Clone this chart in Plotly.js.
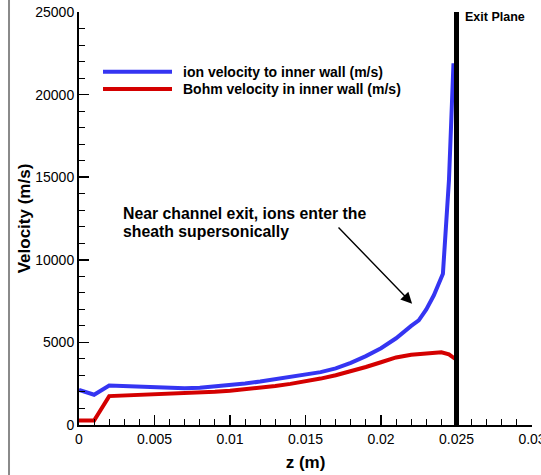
<!DOCTYPE html>
<html>
<head>
<meta charset="utf-8">
<script src="https://cdn.plot.ly/plotly-3.0.1.min.js"></script>
<style>html,body{margin:0;padding:0;background:#fff;}#chart{width:541px;height:475px;}</style>
</head>
<body>
<div id="chart"></div>
<script>
// ion velocity to inner wall (m/s)
var zIon = [0, 0.001, 0.002, 0.003, 0.004, 0.005, 0.006, 0.007, 0.008, 0.009, 0.010, 0.011, 0.012, 0.013, 0.014, 0.015, 0.016, 0.017, 0.018, 0.019, 0.020, 0.021, 0.0215, 0.022, 0.0225, 0.023, 0.0235, 0.0241, 0.0245, 0.0248];
var vIon = [2130, 1830, 2390, 2360, 2290, 2250, 2230, 2230, 2260, 2330, 2410, 2510, 2630, 2760, 2900, 3030, 3200, 3430, 3760, 4170, 4650, 5250, 5650, 6000, 6330, 7000, 7850, 9160, 14800, 21900];
// Bohm velocity in inner wall (m/s)
var zBohm = [0, 0.001, 0.002, 0.003, 0.004, 0.005, 0.006, 0.007, 0.008, 0.009, 0.010, 0.011, 0.012, 0.013, 0.014, 0.015, 0.016, 0.017, 0.018, 0.019, 0.020, 0.021, 0.022, 0.023, 0.024, 0.0245, 0.0249];
var vBohm = [270, 270, 1750, 1780, 1810, 1850, 1880, 1920, 1960, 2010, 2070, 2150, 2250, 2360, 2490, 2640, 2810, 3010, 3240, 3510, 3800, 4090, 4250, 4350, 4400, 4280, 4010];
var exitPlaneZ = 0.025;
var seriesNames = ["ion velocity to inner wall (m/s)", "Bohm velocity in inner wall (m/s)"];
var noteText = ["Near channel exit, ions enter the", "sheath supersonically"];
var arrowTail = [0.01709, 12050];
var arrowHead = [0.02206, 7345];
var xTickVals = [0, 0.005, 0.01, 0.015, 0.02, 0.025, 0.03];
var xTickText = ["0", "0.005", "0.01", "0.015", "0.02", "0.025", "0.03"];
var yTickVals = [0, 5000, 10000, 15000, 20000, 25000];
var yTickText = ["0", "5000", "10000", "15000", "20000", "25000"];

var FONT = "Liberation Sans, Arial, Helvetica, sans-serif";
var BLUE = "#3535f2";
var RED = "#d40000";

var traces = [
  {x: zIon, y: vIon, mode: "lines", name: seriesNames[0], line: {color: BLUE, width: 4}, showlegend: false},
  {x: zBohm, y: vBohm, mode: "lines", name: seriesNames[1], line: {color: RED, width: 4}, showlegend: false},
  {x: [exitPlaneZ, exitPlaneZ], y: [0, 25000], mode: "lines", name: "Exit Plane", line: {color: "#000", width: 5}, showlegend: false, hoverinfo: "skip"}
];

var layout = {
  width: 541, height: 475,
  margin: {l: 79, r: 9, t: 12, b: 50, pad: 0},
  paper_bgcolor: "#fff", plot_bgcolor: "#fff",
  font: {family: FONT, size: 14, color: "#000"},
  showlegend: false,
  xaxis: {
    range: [0, 0.03], tickvals: xTickVals, ticktext: xTickText,
    ticks: "inside", ticklen: 10, tickwidth: 1.5, tickcolor: "#000",
    ticklabeloverflow: "allow",
    showline: true, linewidth: 2, linecolor: "#000", showgrid: false, zeroline: false,
    tickfont: {family: FONT, size: 14, color: "#000"},
    minor: {dtick: 0.001, tick0: 0, ticks: "inside", ticklen: 6, tickwidth: 1, tickcolor: "#000", showgrid: false},
    title: {text: "<b>z (m)</b>", font: {family: FONT, size: 17, color: "#000"}, standoff: 10},
    fixedrange: true
  },
  yaxis: {
    range: [0, 25000], tickvals: yTickVals, ticktext: yTickText,
    ticks: "inside", ticklen: 10, tickwidth: 1.5, tickcolor: "#000",
    ticklabeloverflow: "allow",
    showline: true, linewidth: 2, linecolor: "#000", showgrid: false, zeroline: false,
    tickfont: {family: FONT, size: 14, color: "#000"},
    minor: {dtick: 1000, tick0: 0, ticks: "inside", ticklen: 6, tickwidth: 1, tickcolor: "#000", showgrid: false},
    title: {text: "<b>Velocity (m/s)</b>", font: {family: FONT, size: 17, color: "#000"}, standoff: 0},
    fixedrange: true
  },
  shapes: [
    {type: "line", xref: "paper", yref: "paper", x0: -0.1545, x1: -0.1545, y0: -0.2, y1: 1.1, line: {color: "#8a8a8a", width: 2}},
    {type: "line", xref: "paper", yref: "paper", x0: 0.053, x1: 0.2053, y0: 0.8553, y1: 0.8553, line: {color: BLUE, width: 4}},
    {type: "line", xref: "paper", yref: "paper", x0: 0.053, x1: 0.2053, y0: 0.8133, y1: 0.8133, line: {color: RED, width: 4}}
  ],
  annotations: [
    {xref: "paper", yref: "paper", x: 0.2252, y: 0.8553, xanchor: "left", yanchor: "middle", showarrow: false, text: "<b>" + seriesNames[0] + "</b>", font: {family: FONT, size: 14, color: "#000"}},
    {xref: "paper", yref: "paper", x: 0.2252, y: 0.8133, xanchor: "left", yanchor: "middle", showarrow: false, text: "<b>" + seriesNames[1] + "</b>", font: {family: FONT, size: 14, color: "#000"}},
    {xref: "paper", yref: "paper", x: 0.847, y: 0.9879, xanchor: "left", yanchor: "middle", showarrow: false, text: "<b>Exit Plane</b>", font: {family: FONT, size: 12.5, color: "#000"}},
    {xref: "paper", yref: "paper", x: 0.0955, y: 0.513, xanchor: "left", yanchor: "middle", showarrow: false, borderpad: 0, text: "<b>" + noteText[0] + "</b>", font: {family: FONT, size: 15.8, color: "#000"}},
    {xref: "paper", yref: "paper", x: 0.0955, y: 0.468, xanchor: "left", yanchor: "middle", showarrow: false, borderpad: 0, text: "<b>" + noteText[1] + "</b>", font: {family: FONT, size: 15.8, color: "#000"}},
    {xref: "x", yref: "y", axref: "x", ayref: "y", x: arrowHead[0], y: arrowHead[1], ax: arrowTail[0], ay: arrowTail[1], text: "", showarrow: true, arrowhead: 2, arrowsize: 1.6, arrowwidth: 1.4, arrowcolor: "#000", standoff: 0, startstandoff: 0}
  ]
};

Plotly.newPlot("chart", traces, layout, {displayModeBar: false, staticPlot: true});
</script>
</body>
</html>
